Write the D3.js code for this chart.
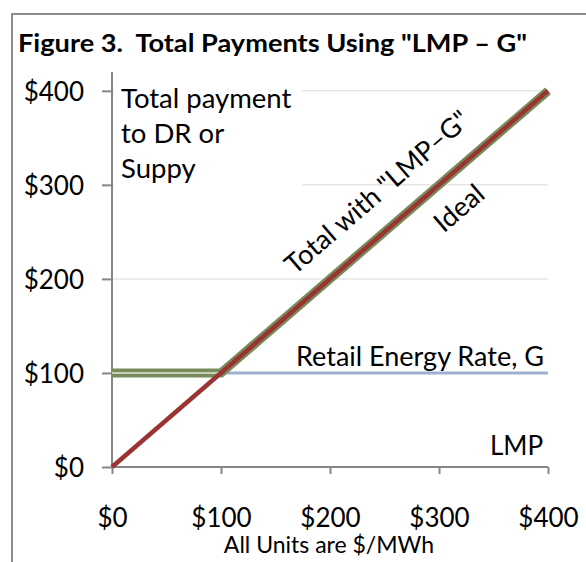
<!DOCTYPE html>
<html>
<head>
<meta charset="utf-8"/>
<title>Figure 3</title>
<script src="https://cdn.jsdelivr.net/npm/d3@7"></script>
<style>
  body { margin: 0; background: #fff; }
  text { font-family: Lato, "Open Sans", sans-serif; fill: #000; white-space: pre; }
</style>
</head>
<body>
<div id="chart"></div>
<script>
// data
var xTicks = [0, 100, 200, 300, 400];
var yTicks = [0, 100, 200, 300, 400];
var idealX = [0, 400];
var idealY = [0, 400];
var totalX = [0, 100, 400];
var totalY = [100, 100, 400];
var retailX = [0, 400];
var retailY = [100, 100];

var w = 586, h = 562;

var xScale = d3.scaleLinear().domain([0, 400]).range([112, 548]);
var yScale = d3.scaleLinear().domain([0, 420]).range([467, 72]);

var svg = d3.select("#chart").append("svg")
    .attr("width", w).attr("height", h);

// outer frame
svg.append("path")
    .attr("d", "M12," + h + "V14H" + w)
    .attr("fill", "none").attr("stroke", "#8c8c8c").attr("stroke-width", 2);

svg.append("text")
    .attr("x", 18).attr("y", 52)
    .attr("font-size", 25).attr("font-weight", "bold")
    .attr("textLength", 509).attr("lengthAdjust", "spacingAndGlyphs")
    .text("Figure 3.  Total Payments Using \"LMP \u2013 G\"");

// gridlines
svg.append("g").selectAll("line")
    .data(yTicks.filter(function(d) { return d > 0; }))
    .enter().append("line")
    .attr("x1", xScale(0)).attr("x2", xScale(400))
    .attr("y1", function(d) { return yScale(d); })
    .attr("y2", function(d) { return yScale(d); })
    .attr("stroke", "#e6e6e6").attr("stroke-width", 1.5);

// box behind the y label text
svg.append("rect")
    .attr("x", 114).attr("y", 74).attr("width", 188).attr("height", 116)
    .attr("fill", "#fff");

// axes
var xAxis = d3.axisBottom(xScale).tickValues(xTicks).tickSize(7)
    .tickFormat(function(d) { return "$" + d; });
var yAxis = d3.axisLeft(yScale).tickValues(yTicks).tickSize(10)
    .tickFormat(function(d) { return "$" + d; });

var gx = svg.append("g")
    .attr("transform", "translate(0," + yScale(0) + ")")
    .call(xAxis);
gx.select(".domain").attr("d", "M" + xScale(0) + ",0H" + xScale(400));
var gy = svg.append("g")
    .attr("transform", "translate(" + xScale(0) + ",0)")
    .call(yAxis);
gy.select(".domain").attr("d", "M0," + yScale(420) + "V" + yScale(0));

[gx, gy].forEach(function(g) {
    g.select(".domain").attr("stroke", "#868686").attr("stroke-width", 2);
    g.selectAll(".tick line").attr("stroke", "#868686").attr("stroke-width", 2);
    g.selectAll(".tick text")
        .attr("font-family", "Lato, sans-serif").attr("font-size", 26).attr("fill", "#000");
});
gx.selectAll(".tick text").attr("dy", null).attr("y", 60);
gy.selectAll(".tick text").attr("x", -28).attr("dy", "0.36em");

var line = d3.line()
    .x(function(d) { return xScale(d[0]); })
    .y(function(d) { return yScale(d[1]); });

function pairs(xs, ys) { return xs.map(function(x, i) { return [x, ys[i]]; }); }

// retail energy rate
svg.append("path").datum(pairs(retailX, retailY))
    .attr("d", line).attr("fill", "none")
    .attr("stroke", "#9db0cf").attr("stroke-width", 3);

// total with LMP-G (double line)
svg.append("path").datum(pairs(totalX, totalY))
    .attr("d", line).attr("fill", "none")
    .attr("stroke", "#778c5a").attr("stroke-width", 9);
svg.append("path").datum(pairs(totalX, totalY))
    .attr("d", line).attr("fill", "none")
    .attr("stroke", "#dfe6d6").attr("stroke-width", 1.5);

// ideal
svg.append("path").datum(pairs(idealX, idealY))
    .attr("d", line).attr("fill", "none")
    .attr("stroke", "#9a3432").attr("stroke-width", 4.5);

// labels
var lab = svg.append("g").attr("font-size", 27.5);
["Total payment", "to DR or", "Suppy"].forEach(function(t, i) {
    lab.append("text").attr("x", 121).attr("y", 108 + i * 35).text(t);
});
lab.append("text").attr("x", 296).attr("y", 366).attr("font-size", 27).text("Retail Energy Rate, G");
lab.append("text").attr("x", 490).attr("y", 455).attr("font-size", 26).text("LMP");

var ang = -Math.atan((yScale(0) - yScale(400)) / (xScale(400) - xScale(0))) * 180 / Math.PI;
lab.append("text")
    .attr("transform", "translate(377,192) rotate(" + ang + ")")
    .attr("text-anchor", "middle").attr("dy", "0.35em").attr("font-size", 27)
    .text("Total with \"LMP\u2013G\"");
lab.append("text")
    .attr("transform", "translate(459,208) rotate(" + ang + ")")
    .attr("text-anchor", "middle").attr("dy", "0.35em").attr("font-size", 27)
    .text("Ideal");

svg.append("text")
    .attr("x", 329).attr("y", 553).attr("text-anchor", "middle")
    .attr("font-size", 23).text("All Units are $/MWh");
</script>
</body>
</html>
